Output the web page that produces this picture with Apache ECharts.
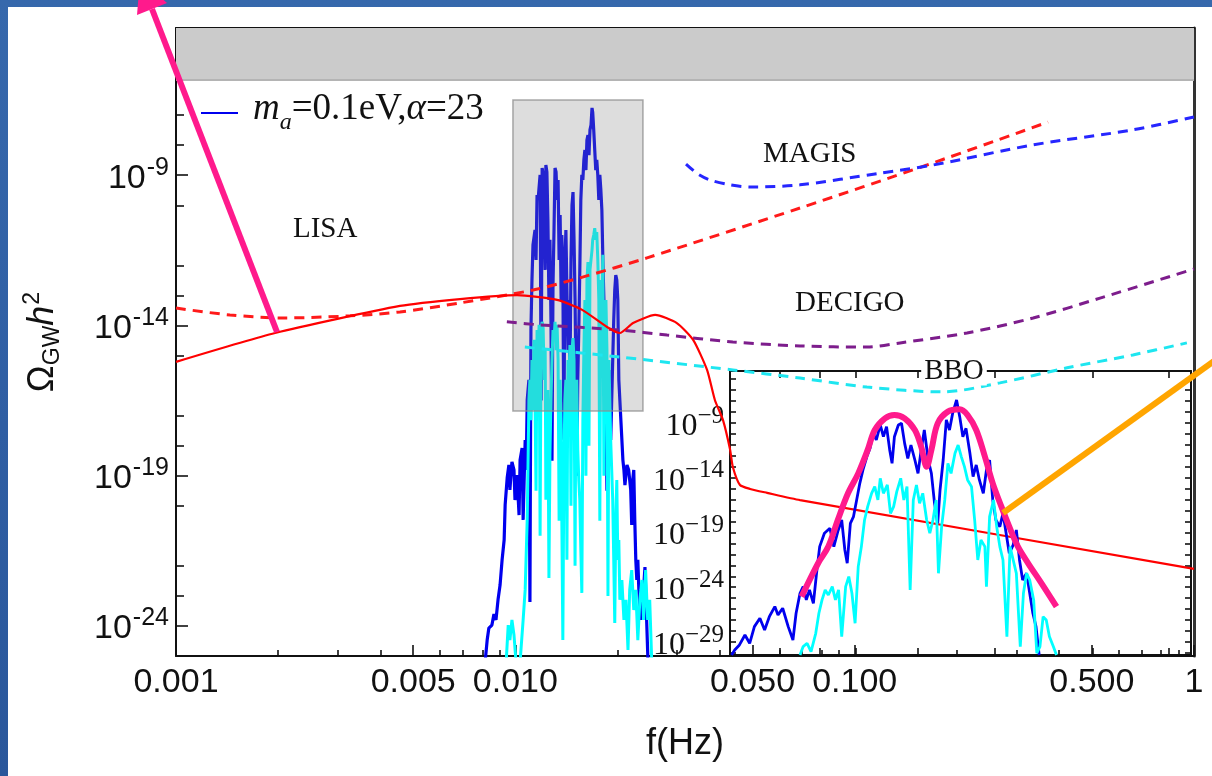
<!DOCTYPE html>
<html>
<head>
<meta charset="utf-8">
<script src="https://cdn.jsdelivr.net/npm/echarts@6/dist/echarts.min.js"></script>
<style>
  html, body { margin: 0; padding: 0; width: 1212px; height: 776px; overflow: hidden; background: #fff; }
  #frame { position: absolute; left: 0; top: 0; width: 1212px; height: 776px;
           background: linear-gradient(180deg, #3668ac 0%, #2f5ea3 55%, #2a579b 100%); }
  #sheet { position: absolute; left: 8px; top: 7px; right: 0; bottom: 0; background: #fff; }
  #chart { position: absolute; left: 0; top: 0; width: 1212px; height: 776px; }
</style>
</head>
<body>
<div id="frame"></div>
<div id="sheet"></div>
<div id="chart"></div>
<script>
// All curves are stored as log10(f / Hz) and log10(Omega_GW h^2).

// ---------- ticks ----------
const xMajorTicks = [0.001, 0.005, 0.01, 0.05, 0.1, 0.5, 1];
const xTickLabels = ['0.001', '0.005', '0.010', '0.050', '0.100', '0.500', '1'];
const xMinorTicks = [0.002, 0.003, 0.004, 0.006, 0.007, 0.008, 0.009,
                     0.02, 0.03, 0.04, 0.06, 0.07, 0.08, 0.09,
                     0.2, 0.3, 0.4, 0.6, 0.7, 0.8, 0.9];
const yMajorTicks = [-24, -19, -14, -9];
const yMinorTicks = [-23, -22, -20, -18, -17, -15, -13, -12, -10, -8, -7, -5];
const insetYTicks = [-30, -29, -28, -27, -26, -25, -24, -23, -22, -21, -20, -19, -18,
                     -17, -16, -15, -14, -13, -12, -11, -10, -9, -8, -7, -6, -5];
const insetYLabels = [-29, -24, -19, -14, -9];
const insetXTicks = [0.008, 0.009, 0.01, 0.012, 0.015, 0.02, 0.025];

// ---------- shaded regions ----------
const topBandLogOmega = -5.83;
const boxLogF = [-2.007, -1.624];
const boxLogOmega = [-16.85, -6.50];

// ---------- model prediction (red solid) ----------
const redLogF = [-3.000, -2.708, -2.340, -2.163, -1.995, -1.877, -1.803, -1.730, -1.692, -1.653,
                 -1.588, -1.524, -1.476, -1.435, -1.412, -1.388, -1.367, -1.359, -1.338, -1.308,
                 -1.258, -1.161, 0.000];
const redLogOmega = [-15.21, -14.25, -13.35, -13.12, -12.99, -13.15, -13.48, -14.05, -14.25, -13.92,
                     -13.65, -13.92, -14.48, -15.48, -16.48, -17.15, -18.14, -18.71, -19.31, -19.44,
                     -19.57, -19.81, -22.10];

// ---------- detector sensitivities ----------
const lisaLogF = [-3.000, -2.841, -2.685, -2.487, -2.340, -2.163, -1.948, -1.802, -1.612, -1.161, -0.787, -0.430];
const lisaLogOmega = [-13.42, -13.65, -13.75, -13.68, -13.55, -13.25, -12.82, -12.39, -11.75, -10.09, -8.66, -7.23];

const magisLogF = [-1.497, -1.462, -1.426, -1.367, -1.308, -1.161, -0.925, -0.769, -0.474, -0.180, 0.000];
const magisLogOmega = [-8.63, -8.96, -9.16, -9.32, -9.39, -9.32, -8.93, -8.66, -7.99, -7.49, -7.06];

const decigoLogF = [-2.025, -1.927, -1.692, -1.553, -1.359, -1.161, -0.964, -0.866, -0.669, -0.474, -0.277, 0.000];
const decigoLogOmega = [-13.88, -13.98, -14.15, -14.32, -14.55, -14.68, -14.72, -14.58, -14.25, -13.75, -13.09, -12.12];

const bboLogF = [-1.972, -1.692, -1.359, -1.161, -0.964, -0.740, -0.572, -0.374, -0.180, -0.021];
const bboLogOmega = [-14.72, -15.05, -15.48, -15.75, -16.05, -16.21, -15.91, -15.41, -14.98, -14.58];

// ---------- spectrum, m_a = 0.1 eV, alpha = 23 (blue) ----------
const spectrumLogF = [
  -2.089, -2.083, -2.078, -2.069, -2.063, -2.057, -2.051, -2.045, -2.039, -2.033,
  -2.030, -2.024, -2.019, -2.016, -2.010, -2.004, -2.001, -1.995, -1.989, -1.986,
  -1.980, -1.977, -1.971, -1.968, -1.965, -1.960, -1.957, -1.954, -1.951, -1.948,
  -1.942, -1.939, -1.936, -1.933, -1.927, -1.924, -1.921, -1.918, -1.912, -1.910,
  -1.907, -1.904, -1.901, -1.898, -1.895, -1.892, -1.889, -1.886, -1.883, -1.880,
  -1.877, -1.874, -1.871, -1.868, -1.865, -1.863, -1.860, -1.857, -1.854, -1.851,
  -1.848, -1.845, -1.842, -1.839, -1.836, -1.833, -1.830, -1.827, -1.824, -1.822,
  -1.819, -1.816, -1.813, -1.810, -1.807, -1.804, -1.801, -1.798, -1.795, -1.792,
  -1.789, -1.786, -1.783, -1.780, -1.777, -1.774, -1.772, -1.769, -1.766, -1.763,
  -1.760, -1.757, -1.754, -1.751, -1.748, -1.745, -1.742, -1.739, -1.736, -1.733,
  -1.730, -1.727, -1.724, -1.721, -1.719, -1.716, -1.713, -1.710, -1.707, -1.704,
  -1.701, -1.698, -1.695, -1.692, -1.689, -1.686, -1.683, -1.680, -1.677, -1.671,
  -1.666, -1.660, -1.657, -1.654, -1.651, -1.648, -1.645, -1.642, -1.639, -1.636,
  -1.633, -1.630, -1.624, -1.618, -1.615, -1.609];
const spectrumLogOmega = [
  -25.20, -24.47, -24.07, -23.97, -23.60, -23.80, -23.13, -22.64, -21.80, -21.14,
  -19.97, -19.07, -18.64, -19.47, -18.54, -18.81, -19.81, -18.98, -20.31, -18.48,
  -18.08, -20.47, -17.81, -18.81, -16.48, -15.81, -23.20, -14.15, -12.49, -11.32,
  -10.82, -11.82, -9.66, -9.82, -8.99, -16.50, -8.76, -8.99, -12.15, -8.66,
  -8.89, -10.49, -13.15, -11.15, -13.82, -18.50, -12.65, -10.82, -8.76, -8.89,
  -9.82, -9.16, -11.82, -10.32, -13.15, -10.99, -12.15, -17.80, -11.99, -10.82,
  -12.82, -14.82, -13.15, -15.81, -11.82, -9.99, -9.56, -11.15, -13.15, -15.15,
  -19.00, -15.81, -14.15, -12.15, -9.82, -8.99, -9.16, -8.49, -8.16, -8.83,
  -7.83, -7.66, -8.33, -7.49, -7.33, -6.76, -6.90, -7.49, -8.16, -8.83,
  -8.49, -8.99, -9.82, -8.99, -9.49, -10.16, -11.82, -13.15, -14.48, -16.15,
  -19.50, -16.48, -15.48, -17.15, -17.81, -16.48, -15.15, -13.82, -12.82, -12.32,
  -12.49, -13.15, -15.81, -16.48, -17.15, -17.81, -18.48, -18.81, -19.31, -18.64,
  -18.81, -19.47, -20.64, -19.14, -18.81, -20.47, -21.80, -22.47, -21.80, -22.80,
  -23.37, -23.80, -23.13, -22.04, -23.13, -25.20];

// ---------- spectrum, second component (cyan) ----------
const spectrum2LogF = [
  -2.027, -2.021, -2.016, -2.010, -2.004, -1.998, -1.986, -1.977, -1.971, -1.965,
  -1.962, -1.960, -1.957, -1.954, -1.951, -1.948, -1.945, -1.942, -1.939, -1.936,
  -1.933, -1.930, -1.927, -1.924, -1.921, -1.918, -1.915, -1.912, -1.910, -1.907,
  -1.904, -1.901, -1.898, -1.895, -1.892, -1.889, -1.886, -1.883, -1.880, -1.877,
  -1.874, -1.871, -1.868, -1.865, -1.863, -1.860, -1.857, -1.854, -1.851, -1.848,
  -1.845, -1.842, -1.839, -1.836, -1.833, -1.830, -1.827, -1.824, -1.822, -1.819,
  -1.816, -1.813, -1.810, -1.807, -1.804, -1.801, -1.798, -1.795, -1.792, -1.789,
  -1.786, -1.783, -1.780, -1.777, -1.774, -1.772, -1.769, -1.766, -1.763, -1.760,
  -1.757, -1.754, -1.751, -1.748, -1.745, -1.742, -1.739, -1.736, -1.733, -1.730,
  -1.727, -1.724, -1.721, -1.719, -1.716, -1.713, -1.710, -1.707, -1.704, -1.701,
  -1.698, -1.695, -1.692, -1.686, -1.680, -1.674, -1.668, -1.663, -1.657, -1.651,
  -1.645, -1.639, -1.633, -1.627, -1.622, -1.616, -1.610, -1.604, -1.598];
const spectrum2LogOmega = [
  -25.20, -23.97, -24.47, -23.80, -24.30, -25.20, -25.20, -23.80, -22.80, -20.47,
  -18.14, -16.48, -15.81, -17.15, -15.15, -16.81, -14.48, -16.48, -19.50, -14.15,
  -15.15, -13.98, -21.00, -14.15, -13.88, -14.08, -15.81, -14.82, -19.80, -17.15,
  -16.15, -22.40, -18.31, -16.48, -15.15, -14.15, -14.48, -13.88, -14.82, -13.98,
  -15.15, -20.50, -15.81, -17.48, -20.47, -24.47, -18.81, -16.48, -15.81, -21.80,
  -15.15, -15.81, -14.65, -20.00, -14.82, -14.42, -15.15, -22.00, -17.15, -15.81,
  -18.14, -19.14, -19.81, -21.47, -22.90, -17.15, -14.82, -13.15, -19.00, -12.49,
  -11.89, -18.00, -12.15, -11.82, -11.49, -11.15, -10.99, -10.76, -11.15, -10.89,
  -11.82, -13.15, -20.50, -12.49, -13.15, -11.65, -19.00, -13.82, -13.15, -14.82,
  -23.00, -15.15, -16.81, -17.81, -18.81, -19.81, -21.80, -23.90, -20.47, -19.14,
  -21.80, -21.14, -23.13, -22.47, -23.80, -23.13, -24.80, -22.80, -22.14, -23.47,
  -22.80, -24.47, -23.13, -22.47, -23.80, -22.14, -23.80, -23.13, -25.20];

// ---------- inset: wider dynamic range ----------
const insetBlueLogF = [
  -2.158, -2.154, -2.148, -2.141, -2.135, -2.129, -2.122, -2.116, -2.110, -2.103,
  -2.099, -2.093, -2.086, -2.080, -2.076, -2.071, -2.067, -2.063, -2.059, -2.054,
  -2.050, -2.046, -2.040, -2.033, -2.028, -2.023, -2.018, -2.014, -2.011, -2.007,
  -2.003, -1.999, -1.995, -1.991, -1.986, -1.982, -1.978, -1.974, -1.969, -1.965,
  -1.961, -1.957, -1.954, -1.951, -1.946, -1.942, -1.938, -1.934, -1.930, -1.925,
  -1.921, -1.917, -1.913, -1.908, -1.904, -1.900, -1.896, -1.893, -1.889, -1.885,
  -1.881, -1.877, -1.872, -1.868, -1.864, -1.860, -1.855, -1.851, -1.847, -1.843,
  -1.838, -1.834, -1.830, -1.826, -1.822, -1.817, -1.813, -1.809, -1.805, -1.800,
  -1.796, -1.792, -1.788, -1.783, -1.779, -1.775, -1.771, -1.767];
const insetBlueLogOmega = [
  -30.19, -29.73, -29.27, -28.36, -29.12, -27.60, -26.84, -27.90, -26.69, -25.77,
  -26.53, -25.92, -27.60, -28.82, -26.38, -24.55, -23.94, -25.16, -24.25, -25.47,
  -22.73, -20.29, -19.07, -18.62, -20.29, -18.92, -17.86, -20.60, -21.81, -18.16,
  -17.55, -16.03, -14.51, -13.29, -12.07, -11.31, -9.94, -10.55, -9.18, -10.25,
  -9.33, -11.46, -12.68, -10.25, -9.18, -9.03, -10.86, -12.23, -11.01, -12.38,
  -13.60, -11.46, -9.64, -12.38, -13.60, -16.34, -18.16, -15.12, -12.38, -8.72,
  -9.64, -8.12, -6.90, -8.42, -10.25, -9.49, -11.77, -13.90, -12.83, -14.20,
  -15.42, -13.29, -12.38, -16.03, -17.86, -18.47, -17.25, -19.07, -20.90, -20.14,
  -18.77, -21.51, -23.34, -22.73, -24.55, -26.38, -27.60, -30.19];

const insetCyanLogF = [
  -2.071, -2.067, -2.062, -2.057, -2.051, -2.047, -2.043, -2.039, -2.035, -2.030,
  -2.026, -2.022, -2.018, -2.013, -2.009, -2.005, -2.001, -1.997, -1.993, -1.989,
  -1.985, -1.980, -1.976, -1.972, -1.969, -1.965, -1.960, -1.956, -1.952, -1.948,
  -1.943, -1.939, -1.935, -1.931, -1.927, -1.923, -1.919, -1.915, -1.910, -1.906,
  -1.902, -1.898, -1.895, -1.891, -1.887, -1.883, -1.879, -1.874, -1.870, -1.866,
  -1.862, -1.858, -1.853, -1.849, -1.845, -1.841, -1.836, -1.834, -1.830, -1.825,
  -1.821, -1.817, -1.813, -1.808, -1.804, -1.800, -1.796, -1.791, -1.787, -1.783,
  -1.779, -1.774, -1.770, -1.766, -1.762, -1.758, -1.754, -1.749, -1.745];
const insetCyanLogOmega = [
  -30.19, -29.42, -29.12, -29.88, -28.21, -26.38, -25.16, -24.25, -24.71, -23.94,
  -25.16, -24.25, -28.51, -23.94, -23.03, -24.55, -27.29, -22.12, -20.29, -17.86,
  -16.64, -15.42, -14.81, -16.03, -14.05, -15.42, -14.66, -17.25, -16.64, -15.27,
  -14.05, -16.03, -14.81, -24.25, -16.03, -14.66, -16.34, -15.42, -17.86, -19.07,
  -17.86, -16.03, -22.73, -18.47, -16.03, -12.68, -13.60, -11.77, -11.01, -12.07,
  -12.99, -14.20, -14.81, -17.86, -21.51, -19.68, -20.29, -23.94, -17.55, -16.03,
  -18.47, -20.29, -21.51, -28.51, -20.29, -21.51, -22.73, -29.42, -24.55, -22.73,
  -23.34, -25.16, -30.03, -29.42, -26.69, -26.99, -28.51, -29.42, -30.19];

// hand-drawn envelope over the inset spectrum
const envelopeLogF = [-2.069, -2.048, -2.035, -2.023, -2.010, -1.997, -1.985, -1.976, -1.963, -1.951,
                      -1.938, -1.925, -1.917, -1.910, -1.904, -1.896, -1.883, -1.868, -1.858, -1.847,
                      -1.836, -1.826, -1.815, -1.805, -1.794, -1.781, -1.764, -1.745];
const envelopeLogOmega = [-24.86, -21.81, -20.29, -17.86, -15.42, -13.60, -11.46, -9.64, -8.57, -8.27,
                          -8.57, -9.64, -11.16, -12.99, -11.46, -9.03, -7.96, -7.75, -8.27, -9.64,
                          -12.07, -14.51, -16.64, -18.47, -20.29, -21.81, -23.64, -25.77];

// ---------- helpers ----------
const SANS = '"Liberation Sans", Arial, sans-serif';
const SERIF = '"Liberation Serif", "Times New Roman", serif';
const INK = '#111';
const lg = Math.log10;
const zip = (xs, ys) => xs.map((x, i) => [x, ys[i]]);
const near = (a, b) => Math.abs(a - b) < 1e-6;
const spectrumName = 'm_a=0.1eV,α=23';

const lineSeries = (name, xs, ys, color, width, dashed, z, xi, yi, smooth) => ({
  name, type: 'line', xAxisIndex: xi || 0, yAxisIndex: yi || 0, z,
  data: zip(xs, ys), showSymbol: false, symbol: 'none', silent: true,
  smooth: smooth || false,
  lineStyle: { color, width, type: dashed ? [10, 7] : 'solid' },
  itemStyle: { color }, animation: false, clip: true
});

const tickStyle = { color: INK, width: 1.6 };

const chart = echarts.init(document.getElementById('chart'), null, { renderer: 'canvas' });

chart.setOption({
  animation: false,
  backgroundColor: 'transparent',
  grid: [
    { left: 176, top: 28, width: 1018, height: 628 },
    { left: 730, top: 371, width: 461, height: 284 }
  ],
  legend: {
    left: 196, top: 86, itemWidth: 37, itemHeight: 2, icon: 'rect',
    selectedMode: false, data: [spectrumName],
    formatter: () => '{m|m}{a|a}{t|=0.1eV,}{al|α}{t|=23}',
    textStyle: {
      color: INK, fontFamily: SERIF, fontSize: 37,
      rich: {
        m:  { fontFamily: SERIF, fontSize: 37, fontStyle: 'italic', color: INK, verticalAlign: 'bottom', padding: [0, 0, 7, 10] },
        a:  { fontFamily: SERIF, fontSize: 24, fontStyle: 'italic', color: INK, verticalAlign: 'bottom', padding: [0, 0, 0, 0] },
        t:  { fontFamily: SERIF, fontSize: 37, color: INK, verticalAlign: 'bottom', padding: [0, 0, 7, 0] },
        al: { fontFamily: SERIF, fontSize: 37, fontStyle: 'italic', color: INK, verticalAlign: 'bottom', padding: [0, 0, 7, 0] }
      }
    }
  },
  xAxis: [
    { // main bottom axis, labelled ticks
      gridIndex: 0, type: 'value', position: 'bottom', min: -3, max: 0,
      axisLine: { onZero: false, lineStyle: { color: INK, width: 2 } },
      axisTick: { inside: true, length: 11, customValues: xMajorTicks.map(lg), lineStyle: tickStyle },
      axisLabel: {
        customValues: xMajorTicks.map(lg), margin: 10, color: INK, fontFamily: SANS, fontSize: 34,
        formatter: v => { const i = xMajorTicks.findIndex(t => near(lg(t), v)); return i >= 0 ? xTickLabels[i] : ''; }
      },
      splitLine: { show: false },
      name: 'f(Hz)', nameLocation: 'middle', nameGap: 70,
      nameTextStyle: { fontFamily: SANS, fontSize: 36, color: INK }
    },
    { // main bottom axis, minor ticks
      gridIndex: 0, type: 'value', position: 'bottom', min: -3, max: 0,
      axisLine: { show: false, onZero: false },
      axisTick: { inside: true, length: 6, customValues: xMinorTicks.map(lg), lineStyle: tickStyle },
      axisLabel: { show: false }, splitLine: { show: false }
    },
    { // main frame top
      gridIndex: 0, type: 'value', position: 'top', min: -3, max: 0,
      axisLine: { onZero: false, lineStyle: { color: INK, width: 2 } },
      axisTick: { show: false }, axisLabel: { show: false }, splitLine: { show: false }
    },
    { // inset bottom
      gridIndex: 1, type: 'value', position: 'bottom', min: -2.16, max: -1.574,
      axisLine: { onZero: false, lineStyle: { color: INK, width: 2 } },
      axisTick: { inside: true, length: 7, customValues: insetXTicks.map(lg), lineStyle: tickStyle },
      axisLabel: { show: false }, splitLine: { show: false }
    },
    { // inset top
      gridIndex: 1, type: 'value', position: 'top', min: -2.16, max: -1.574,
      axisLine: { onZero: false, lineStyle: { color: INK, width: 2 } },
      axisTick: { inside: true, length: 7, customValues: insetXTicks.map(lg), lineStyle: tickStyle },
      axisLabel: { show: false }, splitLine: { show: false }
    }
  ],
  yAxis: [
    { // main left axis, labelled ticks
      gridIndex: 0, type: 'value', position: 'left', min: -25, max: -4.1,
      axisLine: { onZero: false, lineStyle: { color: INK, width: 2 } },
      axisTick: { inside: true, length: 12, customValues: yMajorTicks, lineStyle: tickStyle },
      axisLabel: {
        customValues: yMajorTicks, margin: 7, color: INK,
        formatter: v => '{b|10}{s|' + v + '}',
        rich: {
          b: { fontFamily: SANS, fontSize: 34, color: INK, verticalAlign: 'bottom' },
          s: { fontFamily: SANS, fontSize: 25, color: INK, verticalAlign: 'bottom', padding: [0, 0, 15, 1] }
        }
      },
      splitLine: { show: false },
      name: '{o|Ω}{g|GW}{h|h}{t|2}', nameLocation: 'middle', nameGap: 112, nameRotate: 90,
      nameTextStyle: {
        color: INK,
        rich: {
          o: { fontFamily: SANS, fontSize: 36, color: INK, verticalAlign: 'bottom', padding: [0, 0, 3, 0] },
          g: { fontFamily: SANS, fontSize: 23, color: INK, verticalAlign: 'bottom' },
          h: { fontFamily: SANS, fontSize: 36, fontStyle: 'italic', color: INK, verticalAlign: 'bottom', padding: [0, 0, 3, 0] },
          t: { fontFamily: SANS, fontSize: 23, color: INK, verticalAlign: 'bottom', padding: [0, 0, 20, 1] }
        }
      }
    },
    { // main left axis, minor ticks
      gridIndex: 0, type: 'value', position: 'left', min: -25, max: -4.1,
      axisLine: { show: false, onZero: false },
      axisTick: { inside: true, length: 8, customValues: yMinorTicks, lineStyle: tickStyle },
      axisLabel: { show: false }, splitLine: { show: false }
    },
    { // main frame right
      gridIndex: 0, type: 'value', position: 'right', min: -25, max: -4.1,
      axisLine: { onZero: false, lineStyle: { color: '#333', width: 3 } },
      axisTick: { show: false }, axisLabel: { show: false }, splitLine: { show: false }
    },
    { // inset left
      gridIndex: 1, type: 'value', position: 'left', min: -30.19, max: -4.25,
      axisLine: { onZero: false, lineStyle: { color: INK, width: 2 } },
      axisTick: { inside: true, length: 6, customValues: insetYTicks, lineStyle: tickStyle },
      axisLabel: {
        customValues: insetYLabels, margin: 6, color: INK,
        formatter: v => '{b|10}{s|\u2212' + (-v) + '}',
        rich: {
          b: { fontFamily: SERIF, fontSize: 32, color: INK, verticalAlign: 'bottom' },
          s: { fontFamily: SERIF, fontSize: 25, color: INK, verticalAlign: 'bottom', padding: [0, 0, 14, 0] }
        }
      },
      splitLine: { show: false }
    },
    { // inset right
      gridIndex: 1, type: 'value', position: 'right', min: -30.19, max: -4.25,
      axisLine: { onZero: false, lineStyle: { color: INK, width: 2 } },
      axisTick: { inside: true, length: 6, customValues: insetYTicks, lineStyle: tickStyle },
      axisLabel: { show: false }, splitLine: { show: false }
    }
  ],
  series: [
    { // excluded region at the top
      name: 'top band', type: 'line', xAxisIndex: 0, yAxisIndex: 0, z: 1, silent: true,
      data: [[-3, topBandLogOmega], [0, topBandLogOmega]], symbol: 'none', showSymbol: false,
      lineStyle: { color: '#b4b4b4', width: 2 },
      areaStyle: { origin: 'end', color: '#cbcbcb', opacity: 1 }
    },
    lineSeries(spectrumName, spectrumLogF, spectrumLogOmega, '#0000ee', 3.2, false, 2),
    lineSeries('second component', spectrum2LogF, spectrum2LogOmega, '#00ffff', 3.0, false, 2),
    { // zoom window
      name: 'zoom window', type: 'custom', xAxisIndex: 0, yAxisIndex: 0, z: 3, silent: true,
      data: [[boxLogF[0], boxLogOmega[0], boxLogF[1], boxLogOmega[1]]],
      encode: { x: [0, 2], y: [1, 3] },
      renderItem: (params, api) => {
        const a = api.coord([api.value(0), api.value(3)]);
        const b = api.coord([api.value(2), api.value(1)]);
        return {
          type: 'rect',
          shape: { x: a[0], y: a[1], width: b[0] - a[0], height: b[1] - a[1] },
          style: { fill: 'rgba(128,128,128,0.27)', stroke: 'rgba(140,140,140,0.75)', lineWidth: 1.5 }
        };
      }
    },
    lineSeries('LISA', lisaLogF, lisaLogOmega, '#ff1a1a', 3, true, 4, 0, 0, 0.3),
    lineSeries('MAGIS', magisLogF, magisLogOmega, '#2626ff', 3, true, 4, 0, 0, 0.3),
    lineSeries('DECIGO', decigoLogF, decigoLogOmega, '#7d1d8c', 3, true, 4, 0, 0, 0.3),
    lineSeries('BBO', bboLogF, bboLogOmega, '#1ee6f0', 3, true, 4, 0, 0, 0.3),
    lineSeries('model', redLogF, redLogOmega, '#ff0000', 2.2, false, 4, 0, 0, 0.2),
    lineSeries('inset blue', insetBlueLogF, insetBlueLogOmega, '#0000ee', 2.8, false, 4, 3, 3),
    lineSeries('inset cyan', insetCyanLogF, insetCyanLogOmega, '#00ffff', 2.8, false, 4, 3, 3),
    Object.assign(lineSeries('envelope', envelopeLogF, envelopeLogOmega, '#ff1a8c', 6, false, 6, 3, 3, 0.35),
                  { clip: false })
  ],
  graphic: [
    { type: 'text', x: 293, y: 229, z: 50, style: { text: 'LISA', font: '29px ' + SERIF, fill: INK, textAlign: 'left', textVerticalAlign: 'middle', align: 'left', verticalAlign: 'middle' } },
    { type: 'text', x: 763, y: 154, z: 50, style: { text: 'MAGIS', font: '29px ' + SERIF, fill: INK, textAlign: 'left', textVerticalAlign: 'middle', align: 'left', verticalAlign: 'middle' } },
    { type: 'text', x: 795, y: 303, z: 50, style: { text: 'DECIGO', font: '29px ' + SERIF, fill: INK, textAlign: 'left', textVerticalAlign: 'middle', align: 'left', verticalAlign: 'middle' } },
    { type: 'text', x: 954, y: 371, z: 50, style: { text: 'BBO', font: '29px ' + SERIF, fill: INK, backgroundColor: '#fff', padding: [0, 3], textAlign: 'center', textVerticalAlign: 'middle', align: 'center', verticalAlign: 'middle' } },
    // pointer arrow from the model curve
    { type: 'line', z: 60, shape: { x1: 277, y1: 332, x2: 152, y2: 9 }, style: { stroke: '#ff1a8c', lineWidth: 6 } },
    { type: 'polygon', z: 60, shape: { points: [[140, -21], [137, 15], [167, 3]] }, style: { fill: '#ff1a8c' } },
    // pointer from the inset envelope
    { type: 'line', z: 60, shape: { x1: 1003, y1: 513, x2: 1214, y2: 361 }, style: { stroke: '#ffa500', lineWidth: 6 } }
  ]
});
</script>
</body>
</html>
